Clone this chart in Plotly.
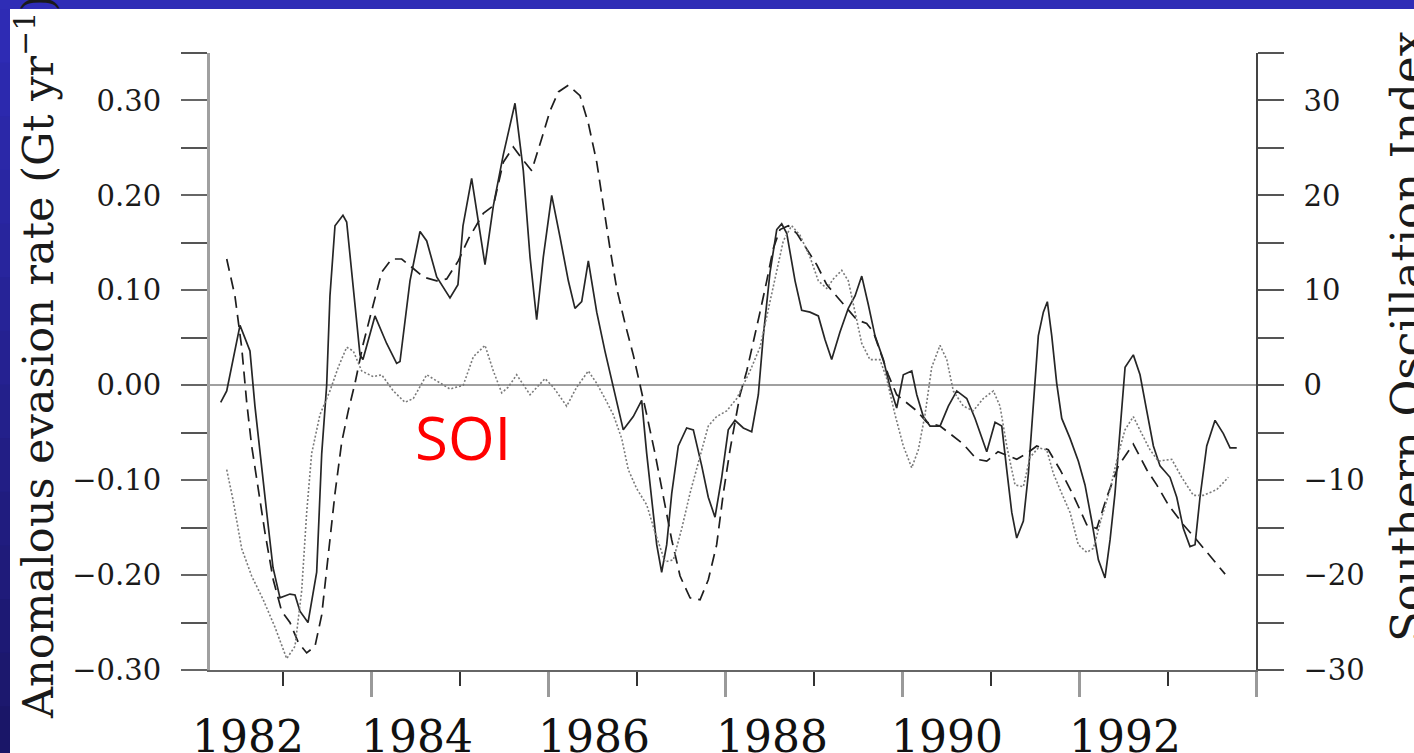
import plotly.graph_objects as go

# ---------------- data ----------------
# Anomalous evasion rate (Gt/yr), solid curve: (decimal year, value)
SOLID = [(1982.296,-0.018),(1982.364,-0.006),(1982.514,0.063),(1982.627,0.036),(1982.683,-0.022),
 (1982.740,-0.072),(1982.816,-0.134),(1982.887,-0.192),(1982.966,-0.224),(1983.079,-0.220),
 (1983.136,-0.221),(1983.192,-0.238),(1983.283,-0.250),(1983.381,-0.197),(1983.438,-0.072),
 (1983.494,0.000),(1983.531,0.094),(1983.588,0.168),(1983.678,0.179),(1983.720,0.172),
 (1983.791,0.106),(1983.871,0.032),(1983.904,0.027),(1984.040,0.073),(1984.172,0.044),
 (1984.285,0.023),(1984.323,0.025),(1984.436,0.110),(1984.549,0.162),(1984.625,0.152),
 (1984.738,0.114),(1984.888,0.092),(1984.978,0.106),(1985.035,0.168),(1985.133,0.218),
 (1985.190,0.185),(1985.284,0.127),(1985.378,0.189),(1985.491,0.243),(1985.623,0.297),
 (1985.717,0.226),(1985.793,0.135),(1985.868,0.069),(1985.943,0.135),(1986.038,0.200),
 (1986.132,0.156),(1986.226,0.110),(1986.301,0.081),(1986.377,0.088),(1986.452,0.131),
 (1986.547,0.077),(1986.640,0.036),(1986.734,-0.002),(1986.847,-0.047),(1986.960,-0.033),
 (1987.055,-0.016),(1987.112,-0.072),(1987.168,-0.122),(1987.225,-0.168),(1987.281,-0.197),
 (1987.338,-0.168),(1987.395,-0.114),(1987.469,-0.064),(1987.564,-0.045),(1987.639,-0.047),
 (1987.734,-0.085),(1987.808,-0.118),(1987.884,-0.139),(1987.960,-0.097),(1988.034,-0.047),
 (1988.110,-0.037),(1988.204,-0.045),(1988.299,-0.049),(1988.374,-0.010),(1988.430,0.052),
 (1988.506,0.119),(1988.582,0.164),(1988.638,0.170),(1988.695,0.160),(1988.789,0.110),
 (1988.864,0.079),(1988.958,0.077),(1989.052,0.073),(1989.128,0.048),(1989.203,0.027),
 (1989.297,0.056),(1989.391,0.081),(1989.467,0.094),(1989.543,0.115),(1989.617,0.085),
 (1989.693,0.052),(1989.787,0.027),(1989.863,-0.002),(1989.938,-0.024),(1990.013,0.011),
 (1990.108,0.015),(1990.165,-0.010),(1990.239,-0.033),(1990.315,-0.043),(1990.428,-0.043),
 (1990.522,-0.022),(1990.617,-0.006),(1990.730,-0.014),(1990.824,-0.035),(1990.956,-0.070),
 (1991.050,-0.039),(1991.126,-0.043),(1991.182,-0.089),(1991.239,-0.134),(1991.295,-0.161),
 (1991.370,-0.143),(1991.427,-0.093),(1991.483,-0.022),(1991.539,0.052),(1991.596,0.077),
 (1991.641,0.088),(1991.691,0.052),(1991.747,0.002),(1991.804,-0.035),(1991.898,-0.056),
 (1991.992,-0.080),(1992.067,-0.105),(1992.143,-0.143),(1992.218,-0.184),(1992.293,-0.203),
 (1992.350,-0.163),(1992.406,-0.114),(1992.463,-0.051),(1992.520,0.019),(1992.613,0.032),
 (1992.689,0.011),(1992.765,-0.027),(1992.840,-0.064),(1992.915,-0.085),(1993.028,-0.097),
 (1993.104,-0.118),(1993.179,-0.151),(1993.254,-0.170),(1993.311,-0.168),(1993.367,-0.118),
 (1993.443,-0.064),(1993.537,-0.037),(1993.631,-0.051),(1993.707,-0.066),(1993.782,-0.066)]

# Anomalous evasion rate (Gt/yr), dashed (smoothed) curve
DASHED = [(1982.364,0.133),(1982.457,0.094),(1982.533,0.040),(1982.590,-0.018),(1982.646,-0.064),
 (1982.721,-0.109),(1982.796,-0.155),(1982.890,-0.205),(1982.985,-0.238),(1983.079,-0.250),
 (1983.173,-0.271),(1983.268,-0.282),(1983.362,-0.275),(1983.438,-0.242),(1983.512,-0.176),
 (1983.588,-0.114),(1983.664,-0.060),(1983.738,-0.027),(1983.814,0.002),(1983.908,0.044),
 (1984.021,0.085),(1984.116,0.119),(1984.229,0.133),(1984.342,0.133),(1984.473,0.123),
 (1984.586,0.114),(1984.738,0.110),(1984.851,0.112),(1984.982,0.131),(1985.095,0.154),
 (1985.265,0.181),(1985.378,0.189),(1985.491,0.235),(1985.604,0.251),(1985.699,0.239),
 (1985.812,0.226),(1985.925,0.260),(1986.019,0.289),(1986.113,0.309),(1986.226,0.316),
 (1986.358,0.305),(1986.452,0.276),(1986.547,0.235),(1986.621,0.189),(1986.697,0.144),
 (1986.773,0.102),(1986.867,0.065),(1986.960,0.032),(1987.036,0.002),(1987.112,-0.031),
 (1987.206,-0.072),(1987.300,-0.118),(1987.395,-0.163),(1987.489,-0.201),(1987.602,-0.224),
 (1987.715,-0.226),(1987.808,-0.205),(1987.903,-0.168),(1987.978,-0.114),(1988.054,-0.068),
 (1988.167,-0.010),(1988.243,0.015),(1988.317,0.044),(1988.393,0.077),(1988.469,0.110),
 (1988.543,0.144),(1988.619,0.164),(1988.713,0.168),(1988.808,0.160),(1988.921,0.144),
 (1989.034,0.127),(1989.147,0.106),(1989.260,0.094),(1989.373,0.081),(1989.486,0.069),
 (1989.599,0.065),(1989.674,0.056),(1989.750,0.036),(1989.843,0.011),(1989.938,-0.010),
 (1990.051,-0.018),(1990.165,-0.027),(1990.278,-0.039),(1990.428,-0.043),(1990.541,-0.051),
 (1990.691,-0.062),(1990.843,-0.078),(1990.956,-0.080),(1991.084,-0.070),(1991.295,-0.078),
 (1991.408,-0.072),(1991.521,-0.064),(1991.652,-0.068),(1991.785,-0.089),(1991.935,-0.116),
 (1992.087,-0.147),(1992.200,-0.151),(1992.313,-0.118),(1992.444,-0.085),(1992.613,-0.062),
 (1992.765,-0.089),(1992.878,-0.105),(1993.009,-0.126),(1993.179,-0.147),(1993.330,-0.163),
 (1993.481,-0.180),(1993.651,-0.199)]

# Southern Oscillation Index, dotted curve (right axis units)
SOI = [(1982.364,-8.9),(1982.438,-12.2),(1982.533,-17.2),(1982.646,-20.1),(1982.777,-22.6),
 (1982.910,-25.5),(1983.042,-28.8),(1983.136,-27.5),(1983.211,-21.7),(1983.268,-13.4),
 (1983.324,-7.2),(1983.418,-3.1),(1983.531,-0.6),(1983.625,1.9),(1983.720,4.0),
 (1983.795,3.6),(1983.890,1.5),(1984.021,0.9),(1984.116,1.1),(1984.247,-0.6),
 (1984.379,-1.8),(1984.473,-1.4),(1984.625,1.1),(1984.775,0.2),(1984.888,-0.4),
 (1985.038,0.0),(1985.152,3.0),(1985.284,4.2),(1985.378,1.5),(1985.473,-0.8),
 (1985.547,-0.2),(1985.642,1.1),(1985.793,-1.0),(1985.962,0.7),(1986.056,-0.2),
 (1986.207,-2.2),(1986.321,-0.2),(1986.452,1.5),(1986.547,0.2),(1986.640,-1.4),
 (1986.734,-3.1),(1986.829,-5.6),(1986.904,-8.9),(1986.999,-10.9),(1987.112,-12.6),
 (1987.206,-15.5),(1987.319,-18.6),(1987.413,-18.4),(1987.508,-15.1),(1987.601,-11.4),
 (1987.715,-7.6),(1987.808,-4.3),(1987.903,-3.3),(1988.016,-2.7),(1988.130,-1.4),
 (1988.280,1.5),(1988.393,4.0),(1988.487,8.1),(1988.582,12.3),(1988.656,15.2),
 (1988.751,16.8),(1988.845,15.8),(1988.958,13.5),(1989.052,11.0),(1989.147,10.2),
 (1989.222,11.2),(1989.317,12.1),(1989.391,11.0),(1989.467,7.7),(1989.543,4.4),
 (1989.636,2.7),(1989.749,2.7),(1989.825,0.7),(1989.919,-3.1),(1990.013,-6.4),
 (1990.108,-8.7),(1990.183,-6.8),(1990.258,-3.1),(1990.334,1.9),(1990.428,4.2),
 (1990.504,2.7),(1990.578,-0.6),(1990.691,-2.2),(1990.804,-2.7),(1990.917,-1.4),
 (1991.031,-0.6),(1991.106,-2.2),(1991.182,-6.4),(1991.276,-10.5),(1991.370,-10.7),
 (1991.445,-7.6),(1991.539,-6.6),(1991.634,-6.8),(1991.709,-9.3),(1991.804,-11.4),
 (1991.898,-13.4),(1991.991,-16.8),(1992.087,-17.6),(1992.161,-17.2),(1992.256,-13.9),
 (1992.350,-11.0),(1992.444,-7.2),(1992.519,-4.7),(1992.613,-3.3),(1992.708,-5.1),
 (1992.802,-6.8),(1992.896,-8.0),(1993.047,-7.8),(1993.160,-9.7),(1993.292,-11.6),
 (1993.405,-11.6),(1993.556,-11.0),(1993.687,-9.7)]

YEAR_LABELS = ["1982", "1984", "1986", "1988", "1990", "1992"]
YEAR_LABEL_POS = [1982.60, 1984.52, 1986.52, 1988.53, 1990.51, 1992.52]
MAJOR_YEARS = [1984, 1986, 1988, 1990, 1992, 1994]
MINOR_YEARS = [1983, 1985, 1987, 1989, 1991, 1993]
LEFT_TICKS = [-0.30, -0.20, -0.10, 0.00, 0.10, 0.20, 0.30]
LEFT_TEXT = ["\u22120.30", "\u22120.20", "\u22120.10", "0.00", "0.10", "0.20", "0.30"]
LEFT_MINOR = [-0.25, -0.15, -0.05, 0.05, 0.15, 0.25, 0.35]
RIGHT_TICKS = [-30, -20, -10, 0, 10, 20, 30]
RIGHT_TEXT = ["\u221230", "\u221220", "\u221210", "0", "10", "20", "30"]
RIGHT_MINOR = [-25, -15, -5, 5, 15, 25, 35]

# ---------------- figure ----------------
W, H = 1414, 753
L, R, T, B = 210, 158, 53, 83
PW, PH = W - L - R, H - T - B

def px_x(p):
    return (p - L) / PW

def px_y(p):
    return (H - B - p) / PH

SERIF = "DejaVu Serif"
fig = go.Figure()

fig.add_trace(go.Scatter(x=[a for a, b in SOI], y=[b for a, b in SOI], mode="lines",
                         line=dict(color="#7a7a7a", width=1.6, dash="2px,2px"),
                         yaxis="y2", showlegend=False))
fig.add_trace(go.Scatter(x=[a for a, b in DASHED], y=[b for a, b in DASHED], mode="lines",
                         line=dict(color="#1e1e1e", width=1.7, dash="12px,7px"),
                         showlegend=False))
fig.add_trace(go.Scatter(x=[a for a, b in SOLID], y=[b for a, b in SOLID], mode="lines",
                         line=dict(color="#262626", width=1.7),
                         showlegend=False))

XR = [1982.175, 1994.0]
common_x = dict(range=XR, showgrid=False, zeroline=False)

shapes = [
    dict(type="rect", xref="paper", yref="paper", x0=px_x(10), x1=px_x(1430),
         y0=px_y(770), y1=px_y(9), fillcolor="white", line=dict(width=0), layer="below"),
]
# left blue band with a gentle vertical gradient
n = 14
c0 = (46, 43, 180)
c1 = (26, 22, 104)
for i in range(n):
    t = i / (n - 1)
    col = "rgb(%d,%d,%d)" % tuple(round(c0[k] + (c1[k] - c0[k]) * t) for k in range(3))
    ya = 9 + (760 - 9) * i / n
    yb = 9 + (760 - 9) * (i + 1) / n
    shapes.append(dict(type="rect", xref="paper", yref="paper", x0=px_x(-5), x1=px_x(10),
                       y0=px_y(yb + 1), y1=px_y(ya), fillcolor=col, line=dict(width=0),
                       layer="below"))

annotations = [
    dict(text="Anomalous evasion rate (Gt yr<sup>\u22121</sup>)", textangle=-90,
         xref="paper", yref="paper", x=px_x(35), y=px_y(357),
         xanchor="center", yanchor="middle", showarrow=False,
         font=dict(family=SERIF, size=43, color="#1a1a1a")),
    dict(text="Southern Oscillation Index", textangle=-90,
         xref="paper", yref="paper", x=px_x(1407), y=px_y(337),
         xanchor="center", yanchor="middle", showarrow=False,
         font=dict(family=SERIF, size=45, color="#1a1a1a")),
    dict(text="SOI", xref="paper", yref="paper", x=px_x(463), y=px_y(437),
         xanchor="center", yanchor="middle", showarrow=False,
         font=dict(family="Open Sans", size=60, color="#ff0000")),
]
# year labels along the bottom axis (placed on the x data scale)
for pos, lab in zip(YEAR_LABEL_POS, YEAR_LABELS):
    annotations.append(dict(text=lab, xref="x", yref="paper", x=pos, y=px_y(736),
                            xanchor="center", yanchor="middle", showarrow=False,
                            font=dict(family=SERIF, size=44, color="#111111")))

fig.update_layout(
    width=W, height=H, autosize=False,
    margin=dict(l=L, r=R, t=T, b=B, pad=0),
    paper_bgcolor="#2f2db6", plot_bgcolor="white",
    showlegend=False,
    shapes=shapes,
    annotations=annotations,
    xaxis=dict(**common_x, tickvals=MAJOR_YEARS, ticks="outside", ticklen=25,
               tickwidth=3, tickcolor="#9a9a9a", showticklabels=False,
               minor=dict(tickvals=MINOR_YEARS, ticks="outside", ticklen=14,
                          tickwidth=1.5, tickcolor="#333333"),
               showline=True, linecolor="#666666", linewidth=2),
    xaxis3=dict(**common_x, overlaying="x", side="top", anchor="y",
                tickvals=MAJOR_YEARS, ticks="outside", ticklen=26, tickwidth=3,
                tickcolor="#9a9a9a", showticklabels=False,
                minor=dict(tickvals=MINOR_YEARS, ticks="outside", ticklen=13,
                           tickwidth=1.5, tickcolor="#333333"),
                showline=True, linecolor="#a0a0a0", linewidth=3),
    yaxis=dict(range=[-0.30, 0.35], tickvals=LEFT_TICKS, ticktext=LEFT_TEXT,
               ticks="outside", ticklen=26, tickwidth=2, tickcolor="#666666",
               minor=dict(tickvals=LEFT_MINOR, ticks="outside", ticklen=26,
                          tickwidth=2, tickcolor="#555555"),
               ticklabelstandoff=14,
               tickfont=dict(family=SERIF, size=29, color="#1a1a1a"),
               showgrid=False, zeroline=True, zerolinecolor="#a0a0a0", zerolinewidth=1.5,
               showline=True, linecolor="#a0a0a0", linewidth=3),
    yaxis2=dict(range=[-30, 35], overlaying="y", side="right", anchor="x",
                tickvals=RIGHT_TICKS, ticktext=RIGHT_TEXT,
                ticks="outside", ticklen=26, tickwidth=2, tickcolor="#555555",
                minor=dict(tickvals=RIGHT_MINOR, ticks="outside", ticklen=26,
                           tickwidth=2, tickcolor="#555555"),
                ticklabelstandoff=14,
                tickfont=dict(family=SERIF, size=29, color="#1a1a1a"),
                showgrid=False, zeroline=False,
                showline=True, linecolor="#444444", linewidth=1.5),
)

fig.write_html("out.html")
